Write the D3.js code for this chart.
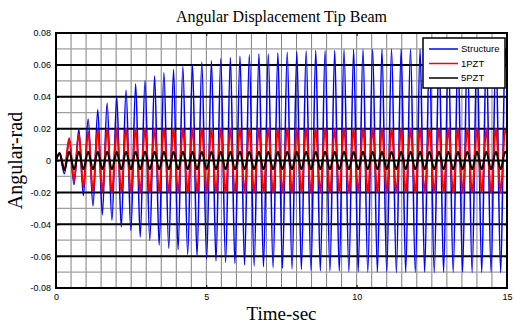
<!DOCTYPE html>
<html>
<head>
<meta charset="utf-8">
<script src="https://cdn.jsdelivr.net/npm/d3@7"></script>
<style>
  html, body { margin: 0; padding: 0; background: #fff; }
  svg { display: block; }
</style>
</head>
<body>
<svg id="chart" width="514" height="327"></svg>
<script>
// ---- data: time (s) of each crest and trough, and the displacement (rad) there ----
const crestTimes = [0.12, 0.44, 0.76, 1.07, 1.39, 1.70, 2.02, 2.33, 2.65, 2.96, 3.28, 3.59,
  3.91, 4.22, 4.54, 4.85, 5.17, 5.48, 5.80, 6.12, 6.43, 6.75, 7.06, 7.38, 7.69, 8.01, 8.32,
  8.64, 8.95, 9.27, 9.58, 9.90, 10.21, 10.53, 10.84, 11.16, 11.48, 11.79, 12.11, 12.42,
  12.74, 13.05, 13.37, 13.68, 14.00, 14.31, 14.63, 14.94];
const troughTimes = [0.28, 0.60, 0.91, 1.23, 1.54, 1.86, 2.17, 2.49, 2.80, 3.12, 3.43, 3.75,
  4.06, 4.38, 4.69, 5.01, 5.32, 5.64, 5.95, 6.27, 6.59, 6.90, 7.22, 7.53, 7.85, 8.16, 8.48,
  8.79, 9.11, 9.42, 9.74, 10.05, 10.37, 10.69, 11.00, 11.32, 11.63, 11.95, 12.26, 12.58,
  12.89, 13.21, 13.52, 13.84, 14.16, 14.47, 14.79, 15.10];

const structureCrests = [0.0045, 0.013, 0.0196, 0.026, 0.032, 0.036, 0.040, 0.044, 0.048,
  0.050, 0.053, 0.055, 0.057, 0.059, 0.060, 0.0617, 0.0625, 0.064, 0.0646, 0.0654, 0.0663,
  0.067, 0.067, 0.0675, 0.068, 0.0683, 0.0688, 0.069, 0.069, 0.069, 0.0696, 0.0696, 0.0697,
  0.0698, 0.0698, 0.0699, 0.070, 0.070, 0.0699, 0.070, 0.070, 0.0701, 0.070, 0.070, 0.0701,
  0.070, 0.070, 0.0701];
const structureTroughs = [-0.0083, -0.015, -0.022, -0.0285, -0.034, -0.0375, -0.0417, -0.044,
  -0.048, -0.050, -0.053, -0.055, -0.056, -0.059, -0.060, -0.0619, -0.0631, -0.064, -0.0646,
  -0.0656, -0.0663, -0.0667, -0.0673, -0.0677, -0.068, -0.0683, -0.0688, -0.0692, -0.0694,
  -0.0694, -0.0698, -0.0698, -0.070, -0.070, -0.0698, -0.0702, -0.070, -0.0701, -0.070,
  -0.0702, -0.070, -0.0701, -0.070, -0.0702, -0.0701, -0.070, -0.0702, -0.070];

const pzt1Crests = [0.0045, 0.014, 0.0167, 0.018, 0.019, 0.0196, 0.0199, 0.020, 0.020, 0.0199,
  0.020, 0.020, 0.020, 0.0199, 0.020, 0.020, 0.020, 0.0199, 0.020, 0.020, 0.020, 0.0199,
  0.020, 0.020, 0.020, 0.0199, 0.020, 0.020, 0.020, 0.0199, 0.020, 0.020, 0.020, 0.0199,
  0.020, 0.020, 0.020, 0.0199, 0.020, 0.020, 0.020, 0.0199, 0.020, 0.020, 0.020, 0.0199,
  0.020, 0.020];
const pzt1Troughs = [-0.006, -0.0125, -0.0167, -0.019, -0.0197, -0.020, -0.020, -0.0199,
  -0.020, -0.020, -0.020, -0.0199, -0.020, -0.020, -0.020, -0.0199, -0.020, -0.020, -0.020,
  -0.0199, -0.020, -0.020, -0.020, -0.0199, -0.020, -0.020, -0.020, -0.0199, -0.020, -0.020,
  -0.020, -0.0199, -0.020, -0.020, -0.020, -0.0199, -0.020, -0.020, -0.020, -0.0199, -0.020,
  -0.020, -0.020, -0.0199, -0.020, -0.020, -0.020, -0.0199];

const pzt5Crests = [0.0045, 0.0055, 0.0055, 0.0055, 0.0055, 0.0055, 0.0055, 0.0055, 0.0055,
  0.0055, 0.0055, 0.0055, 0.0055, 0.0055, 0.0055, 0.0055, 0.0055, 0.0055, 0.0055, 0.0055,
  0.0055, 0.0055, 0.0055, 0.0055, 0.0055, 0.0055, 0.0055, 0.0055, 0.0055, 0.0055, 0.0055,
  0.0055, 0.0055, 0.0055, 0.0055, 0.0055, 0.0055, 0.0055, 0.0055, 0.0055, 0.0055, 0.0055,
  0.0055, 0.0055, 0.0055, 0.0055, 0.0055, 0.0055];
const pzt5Troughs = [-0.006, -0.0055, -0.0055, -0.0055, -0.0055, -0.0055, -0.0055, -0.0055,
  -0.0055, -0.0055, -0.0055, -0.0055, -0.0055, -0.0055, -0.0055, -0.0055, -0.0055, -0.0055,
  -0.0055, -0.0055, -0.0055, -0.0055, -0.0055, -0.0055, -0.0055, -0.0055, -0.0055, -0.0055,
  -0.0055, -0.0055, -0.0055, -0.0055, -0.0055, -0.0055, -0.0055, -0.0055, -0.0055, -0.0055,
  -0.0055, -0.0055, -0.0055, -0.0055, -0.0055, -0.0055, -0.0055, -0.0055, -0.0055, -0.0055];

const seriesNames = ["Structure", "1PZT", "5PZT"];
const seriesColors = ["#0000ff", "#ff0000", "#000000"];
const seriesWidths = [1.6, 2, 2];
const xTickValues = [0, 5, 10, 15];
const yTickValues = [-0.08, -0.06, -0.04, -0.02, 0, 0.02, 0.04, 0.06, 0.08];
const yTickLabels = ["-0.08", "-0.06", "-0.04", "-0.02", "0", "0.02", "0.04", "0.06", "0.08"];

// ---- layout ----
const svg = d3.select("#chart");
const plot = { left: 56, right: 507, top: 33, bottom: 288 };

const x = d3.scaleLinear().domain([0, 15]).range([plot.left, plot.right]);
const y = d3.scaleLinear().domain([-0.08, 0.08]).range([plot.bottom, plot.top]);

// alternating crest / trough sequence starting from rest
function buildSeries(crests, troughs) {
  const pts = [{ t: 0, v: 0 }];
  for (let i = 0; i < crestTimes.length; i++) {
    pts.push({ t: crestTimes[i], v: crests[i] });
    pts.push({ t: troughTimes[i], v: troughs[i] });
  }
  return pts;
}
const series = [
  buildSeries(structureCrests, structureTroughs),
  buildSeries(pzt1Crests, pzt1Troughs),
  buildSeries(pzt5Crests, pzt5Troughs)
];

// ---- grid ----
const grid = svg.append("g");
grid.selectAll("line.vgrid")
  .data(d3.range(1, 30).map(i => i * 0.5))
  .join("line")
  .attr("x1", d => x(d)).attr("x2", d => x(d))
  .attr("y1", plot.top).attr("y2", plot.bottom)
  .attr("stroke", "#808080").attr("stroke-width", 1);

grid.selectAll("line.minor")
  .data([-0.07, -0.05, -0.03, -0.01, 0.01, 0.03, 0.05, 0.07])
  .join("line")
  .attr("x1", plot.left).attr("x2", plot.right)
  .attr("y1", d => y(d)).attr("y2", d => y(d))
  .attr("stroke", "#a0a0a0").attr("stroke-width", 1.2);

grid.selectAll("line.major")
  .data(yTickValues.slice(1, -1))
  .join("line")
  .attr("x1", plot.left).attr("x2", plot.right)
  .attr("y1", d => y(d)).attr("y2", d => y(d))
  .attr("stroke", "#000").attr("stroke-width", 2);

// ---- traces ----
svg.append("clipPath").attr("id", "plotClip")
  .append("rect")
  .attr("x", plot.left).attr("y", plot.top)
  .attr("width", plot.right - plot.left).attr("height", plot.bottom - plot.top);

const line = d3.line()
  .x(d => x(d.t)).y(d => y(d.v))
  .curve(d3.curveMonotoneX);

svg.append("g").attr("clip-path", "url(#plotClip)")
  .selectAll("path")
  .data(series)
  .join("path")
  .attr("d", line)
  .attr("fill", "none")
  .attr("stroke", (d, i) => seriesColors[i])
  .attr("stroke-width", (d, i) => seriesWidths[i])
  .attr("stroke-linejoin", "round");

// ---- axes ----
const tickFont = "'Liberation Sans', Arial, sans-serif";

const xAxis = svg.append("g")
  .attr("transform", `translate(0,${plot.bottom})`)
  .call(d3.axisBottom(x).tickValues(xTickValues).tickSize(-3).tickPadding(6).tickFormat(d3.format("d")));
const xAxisTop = svg.append("g")
  .attr("transform", `translate(0,${plot.top})`)
  .call(d3.axisTop(x).tickValues(xTickValues).tickSize(-3).tickFormat(""));
const yAxis = svg.append("g")
  .attr("transform", `translate(${plot.left},0)`)
  .call(d3.axisLeft(y).tickValues(yTickValues).tickSize(-3).tickPadding(5)
    .tickFormat((d, i) => yTickLabels[i]));
const yAxisRight = svg.append("g")
  .attr("transform", `translate(${plot.right},0)`)
  .call(d3.axisRight(y).tickValues(yTickValues).tickSize(-3).tickFormat(""));

[xAxis, xAxisTop, yAxis, yAxisRight].forEach(g => {
  g.select(".domain").remove();
  g.selectAll(".tick line").attr("stroke", "#000").attr("stroke-width", 1);
  g.selectAll(".tick text")
    .attr("fill", "#000")
    .style("font-family", tickFont)
    .style("font-size", "9px");
});

// frame
svg.append("rect")
  .attr("x", plot.left).attr("y", plot.top)
  .attr("width", plot.right - plot.left).attr("height", plot.bottom - plot.top)
  .attr("fill", "none").attr("stroke", "#000").attr("stroke-width", 2);

// ---- titles ----
const serif = "'Liberation Serif', 'Times New Roman', serif";
svg.append("text")
  .attr("x", (plot.left + plot.right) / 2).attr("y", 22)
  .attr("text-anchor", "middle")
  .style("font-family", serif).style("font-size", "16px")
  .text("Angular Displacement Tip Beam");

svg.append("text")
  .attr("x", (plot.left + plot.right) / 2).attr("y", 320)
  .attr("text-anchor", "middle")
  .style("font-family", serif).style("font-size", "19px")
  .text("Time-sec");

svg.append("text")
  .attr("transform", `translate(22,${(plot.top + plot.bottom) / 2}) rotate(-90)`)
  .attr("text-anchor", "middle")
  .style("font-family", serif).style("font-size", "20px")
  .text("Angular-rad");

// ---- legend ----
const legend = svg.append("g").attr("transform", "translate(423,38)");
legend.append("rect")
  .attr("width", 82).attr("height", 50)
  .attr("fill", "#fff").attr("stroke", "#000").attr("stroke-width", 1.5);
const rows = legend.selectAll("g.row")
  .data(seriesNames)
  .join("g")
  .attr("transform", (d, i) => `translate(0,${11 + i * 14.5})`);
rows.append("line")
  .attr("x1", 6).attr("x2", 35)
  .attr("stroke", (d, i) => seriesColors[i]).attr("stroke-width", 1.5);
rows.append("text")
  .attr("x", 38).attr("dy", "0.35em")
  .style("font-family", tickFont).style("font-size", "9.5px")
  .text(d => d);
</script>
</body>
</html>
